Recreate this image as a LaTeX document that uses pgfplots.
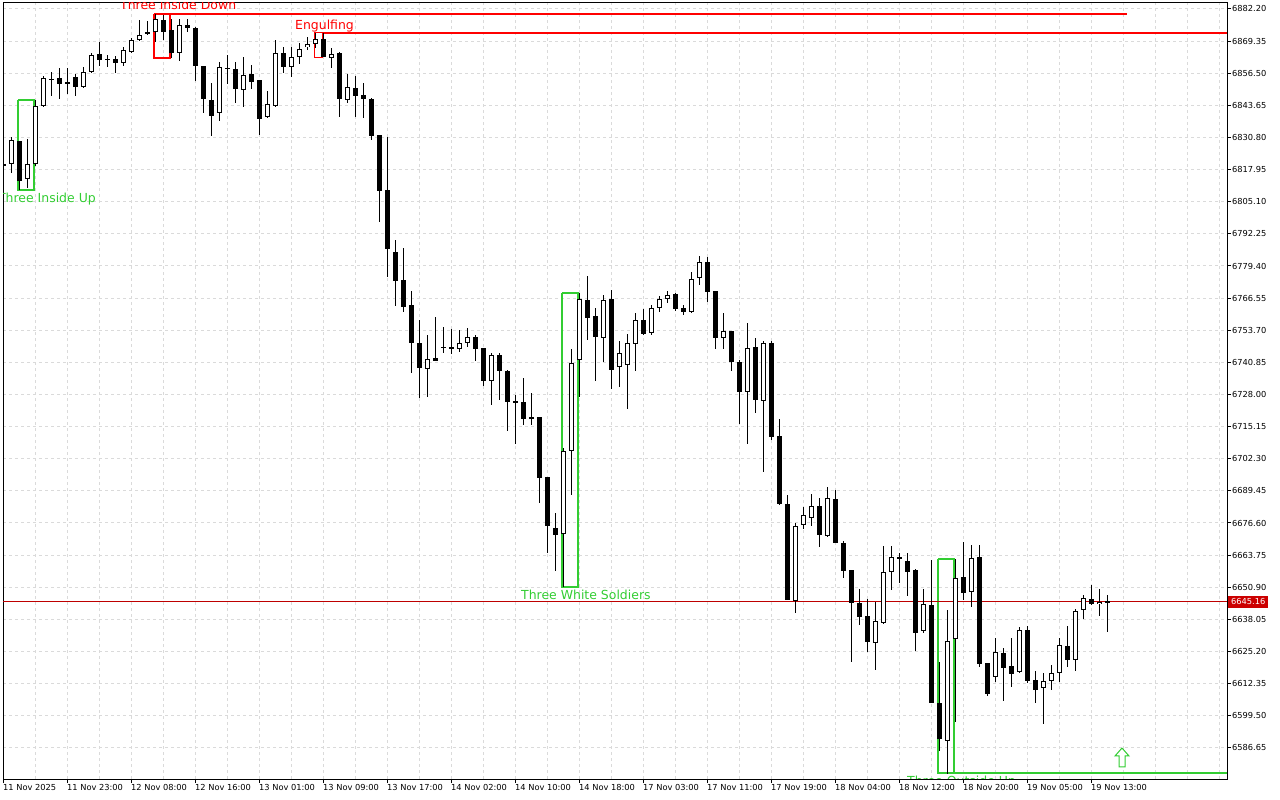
\documentclass[border=0pt]{standalone}
\usepackage{pgfplots}
\pgfplotsset{compat=1.18}
\usepackage{pgfplotstable}
\usepackage{fontspec}
\setmainfont{DejaVu Sans}
\definecolor{mtgreen}{RGB}{50,205,50}
\definecolor{mtred}{RGB}{255,0,0}
\definecolor{pline}{RGB}{190,0,0}
\definecolor{plabel}{RGB}{204,0,0}
\definecolor{gridc}{RGB}{218,218,218}

\pgfplotstableread{
i o h l c
0 6819.5 6822.0 6818.0 6820.2
1 6820.3 6831.1 6816.7 6829.7
2 6829.3 6829.6 6809.8 6813.5
3 6814.1 6830.1 6810.5 6820.1
4 6820.3 6845.7 6819.5 6843.5
5 6843.5 6855.5 6843.0 6854.9
6 6854.4 6857.1 6847.5 6854.0
7 6854.5 6858.7 6846.1 6852.1
8 6853.1 6858.7 6848.2 6852.5
9 6854.9 6856.5 6847.4 6850.9
10 6850.9 6859.1 6850.5 6856.9
11 6856.9 6864.7 6856.7 6863.7
12 6864.1 6868.9 6859.5 6861.8
13 6862.0 6863.8 6859.1 6862.2
14 6862.1 6863.4 6856.7 6860.5
15 6860.5 6867.1 6859.6 6865.7
16 6865.1 6870.7 6864.5 6869.7
17 6869.7 6877.8 6869.5 6871.7
18 6872.1 6877.3 6871.9 6872.9
19 6872.9 6880.2 6869.0 6878.1
20 6877.7 6880.0 6869.8 6873.1
21 6873.8 6878.1 6862.5 6864.7
22 6864.7 6878.1 6861.5 6875.7
23 6875.8 6878.1 6873.1 6874.7
24 6874.9 6875.2 6853.5 6859.5
25 6859.3 6859.5 6840.5 6846.1
26 6845.8 6852.5 6831.5 6839.5
27 6840.5 6861.1 6837.5 6858.9
28 6858.7 6863.8 6852.5 6858.5
29 6858.5 6861.1 6844.7 6850.2
30 6849.7 6863.1 6843.1 6855.7
31 6856.2 6859.8 6850.1 6853.1
32 6853.8 6854.0 6831.8 6838.5
33 6838.9 6849.4 6838.5 6844.1
34 6843.4 6869.8 6843.1 6864.5
35 6864.5 6866.9 6856.7 6859.1
36 6859.1 6866.9 6855.1 6863.1
37 6863.1 6868.5 6860.1 6866.3
38 6866.9 6871.1 6866.0 6868.1
39 6868.1 6872.7 6866.5 6870.1
40 6870.1 6872.7 6862.9 6863.1
41 6862.9 6866.5 6858.7 6864.2
42 6864.7 6865.1 6839.1 6846.1
43 6845.7 6856.2 6844.7 6850.9
44 6850.5 6855.4 6839.1 6847.5
45 6847.8 6852.7 6838.5 6846.1
46 6846.2 6846.6 6830.1 6831.4
47 6831.8 6832.0 6797.1 6809.5
48 6809.8 6831.1 6775.1 6786.3
49 6784.9 6789.8 6763.4 6773.5
50 6773.8 6786.5 6761.1 6763.1
51 6763.8 6769.4 6736.7 6748.5
52 6748.7 6757.8 6726.9 6738.5
53 6738.1 6751.8 6726.9 6742.1
54 6742.5 6759.2 6741.4 6741.5
55 6747.0 6755.1 6744.7 6746.9
56 6747.1 6754.2 6744.2 6746.3
57 6746.3 6753.8 6745.0 6748.7
58 6748.7 6754.5 6747.1 6750.9
59 6750.9 6751.8 6741.5 6746.3
60 6746.6 6746.8 6731.4 6733.5
61 6733.5 6744.7 6723.8 6743.7
62 6743.8 6744.7 6725.8 6737.5
63 6737.4 6737.8 6713.4 6725.1
64 6725.4 6727.8 6708.2 6724.5
65 6725.0 6734.7 6715.8 6718.5
66 6718.5 6728.5 6715.8 6718.9
67 6719.1 6719.2 6684.5 6694.7
68 6694.9 6695.0 6664.7 6675.3
69 6674.7 6680.5 6657.5 6671.8
70 6672.1 6706.5 6651.1 6705.3
71 6705.3 6746.5 6687.8 6740.7
72 6741.7 6768.7 6727.1 6766.1
73 6765.7 6775.5 6749.8 6758.7
74 6759.4 6762.5 6733.5 6751.1
75 6750.7 6767.8 6741.1 6765.7
76 6766.2 6769.8 6730.1 6738.1
77 6738.9 6749.4 6730.9 6744.5
78 6739.7 6752.2 6722.3 6748.5
79 6748.1 6760.6 6737.5 6757.7
80 6758.1 6762.2 6751.8 6752.3
81 6752.5 6763.8 6752.0 6762.5
82 6762.5 6767.4 6761.0 6766.1
83 6766.1 6769.5 6764.5 6767.7
84 6768.1 6768.7 6761.5 6762.3
85 6762.5 6763.8 6759.8 6761.1
86 6761.1 6777.1 6760.5 6774.1
87 6774.5 6783.5 6771.8 6780.9
88 6780.9 6782.9 6765.1 6769.1
89 6769.4 6769.5 6746.1 6750.7
90 6750.5 6760.7 6746.1 6753.4
91 6753.4 6753.6 6737.5 6740.9
92 6740.9 6741.8 6716.2 6729.1
93 6729.1 6756.7 6708.2 6746.5
94 6746.9 6750.5 6720.5 6725.8
95 6725.7 6749.4 6697.1 6748.7
96 6748.7 6749.4 6710.0 6711.1
97 6711.7 6718.1 6683.8 6684.2
98 6684.5 6687.7 6645.8 6645.8
99 6645.5 6676.5 6640.5 6675.3
100 6675.7 6682.9 6674.1 6679.7
101 6678.9 6688.5 6675.4 6683.5
102 6683.5 6686.7 6667.1 6671.6
103 6671.6 6690.9 6671.1 6686.5
104 6686.2 6689.8 6668.5 6668.7
105 6668.9 6669.4 6654.7 6657.5
106 6657.8 6658.0 6621.1 6644.5
107 6644.5 6650.2 6635.7 6638.9
108 6639.4 6646.1 6625.1 6629.1
109 6628.7 6645.1 6617.8 6637.3
110 6636.5 6667.4 6636.4 6656.9
111 6656.9 6667.4 6649.8 6662.9
112 6663.0 6664.5 6652.7 6662.4
113 6661.4 6664.5 6647.4 6657.1
114 6657.8 6658.0 6625.4 6632.7
115 6633.5 6650.1 6632.5 6644.1
116 6643.8 6661.7 6604.6 6604.6
117 6604.5 6621.1 6585.5 6590.1
118 6589.6 6641.8 6576.5 6629.5
119 6630.1 6662.2 6597.1 6654.7
120 6654.9 6669.1 6645.9 6648.5
121 6648.9 6667.8 6642.9 6662.5
122 6662.9 6667.8 6619.1 6620.2
123 6620.6 6620.7 6607.5 6608.2
124 6615.2 6630.5 6613.1 6624.9
125 6624.5 6626.5 6605.5 6618.5
126 6619.4 6630.5 6610.9 6616.2
127 6617.1 6634.9 6616.7 6633.8
128 6633.8 6635.5 6612.7 6613.4
129 6613.8 6617.4 6604.9 6609.8
130 6610.5 6616.9 6596.2 6613.4
131 6613.5 6619.8 6610.1 6616.5
132 6616.8 6630.7 6613.1 6627.7
133 6627.4 6635.4 6619.1 6622.1
134 6622.1 6642.1 6617.5 6641.4
135 6641.7 6647.8 6638.1 6646.5
136 6646.5 6651.8 6643.8 6644.2
137 6644.2 6650.1 6639.4 6645.1
138 6645.2 6647.8 6633.1 6645.16
}\candles

\begin{document}
\begin{tikzpicture}
\begin{axis}[
  scale only axis, width=1224bp, height=776bp,
  xmin=0, xmax=153, ymin=6574.2, ymax=6884.6,
  axis line style={line width=1bp, black},
  xtick pos=left, ytick pos=right, yticklabel pos=right,
  tick align=outside, major tick length=4bp, minor tick length=0pt,
  tick style={black, line width=1bp},
  scaled y ticks=false, scaled x ticks=false,
  xtick={0,8,...,136},
  xticklabels={11 Nov 2025, 11 Nov 23:00, 12 Nov 08:00, 12 Nov 16:00, 13 Nov 01:00, 13 Nov 09:00, 13 Nov 17:00, 14 Nov 02:00, 14 Nov 10:00, 14 Nov 18:00, 17 Nov 03:00, 17 Nov 11:00, 17 Nov 19:00, 18 Nov 04:00, 18 Nov 12:00, 18 Nov 20:00, 19 Nov 05:00, 19 Nov 13:00},
  minor xtick={4,8,...,152},
  ytick={6586.65,6599.50,6612.35,6625.20,6638.05,6650.90,6663.75,6676.60,6689.45,6702.30,6715.15,6728.00,6740.85,6753.70,6766.55,6779.40,6792.25,6805.10,6817.95,6830.80,6843.65,6856.50,6869.35,6882.20},
  yticklabels={6586.65,6599.50,6612.35,6625.20,6638.05,6650.90,6663.75,6676.60,6689.45,6702.30,6715.15,6728.00,6740.85,6753.70,6766.55,6779.40,6792.25,6805.10,6817.95,6830.80,6843.65,6856.50,6869.35,6882.20},
  xmajorgrids=false, xminorgrids=true, ymajorgrids=true,
  major grid style={gridc, dash pattern=on 3bp off 3bp, line width=1bp},
  minor grid style={gridc, dash pattern=on 3bp off 3bp, line width=1bp},
  ticklabel style={font=\fontsize{8.3}{10}\selectfont, text=black},
  xticklabel style={anchor=north west, inner sep=0pt, xshift=0bp, yshift=-1.5bp},
  yticklabel style={anchor=west, inner sep=0pt, xshift=1bp},
  clip mode=global,
]
% pattern boxes and lines
\addplot[mtgreen, line width=1.6bp, forget plot] coordinates {(1.9,6845.7) (3.9,6845.7) (3.9,6809.8) (1.9,6809.8) (1.9,6845.7)};
\addplot[mtred, line width=1.6bp, forget plot] coordinates {(18.9,6880.2) (20.9,6880.2) (20.9,6862.7) (18.9,6862.7) (18.9,6880.2)};
\addplot[mtred, line width=1.6bp, forget plot] coordinates {(18.9,6880.2) (140.5,6880.2)};
\addplot[mtred, line width=1.2bp, forget plot] coordinates {(38.9,6872.7) (39.9,6872.7) (39.9,6862.9) (38.9,6862.9) (38.9,6872.7)};
\addplot[mtred, line width=1.6bp, forget plot] coordinates {(39.9,6872.7) (153,6872.7)};
\addplot[mtgreen, line width=1.6bp, forget plot] coordinates {(69.9,6768.7) (71.9,6768.7) (71.9,6651.1) (69.9,6651.1) (69.9,6768.7)};
\addplot[mtgreen, line width=1.6bp, forget plot] coordinates {(116.9,6662.2) (118.9,6662.2) (118.9,6576.7) (116.9,6576.7) (116.9,6662.2)};
\addplot[mtgreen, line width=1.6bp, forget plot] coordinates {(116.9,6576.7) (153,6576.7)};
% current price line
\addplot[pline, line width=1bp, forget plot] coordinates {(0,6645.16) (153,6645.16)};
% wicks
\addplot[draw=none, forget plot, error bars/.cd, y dir=both, y explicit, error mark=none,
  error bar style={draw=black, line width=1bp, solid}]
  table[x=i, y expr={(\thisrow{h}+\thisrow{l})/2}, y error expr={(\thisrow{h}-\thisrow{l})/2}] {\candles};
% bodies (outer)
\addplot[draw=none, forget plot, error bars/.cd, y dir=both, y explicit, error mark=none,
  error bar style={draw=black, line width=5bp, line cap=butt, solid}]
  table[x=i, y expr={(\thisrow{o}+\thisrow{c})/2}, y error expr={max(abs(\thisrow{c}-\thisrow{o})/2,0.2)}] {\candles};
% bullish bodies (white inner)
\addplot[draw=none, forget plot, restrict expr to domain={\thisrow{c}-\thisrow{o}}{0.85:1000},
  error bars/.cd, y dir=both, y explicit, error mark=none,
  error bar style={draw=white, line width=3bp, line cap=butt, solid}]
  table[x=i, y expr={(\thisrow{o}+\thisrow{c})/2}, y error expr={(\thisrow{c}-\thisrow{o})/2-0.4}] {\candles};
% up arrow
\addplot[mtgreen, fill=white, line width=1bp, forget plot] coordinates {(139.875,6586.6) (140.75,6583.4) (140.25,6583.4) (140.25,6579.0) (139.5,6579.0) (139.5,6583.4) (139.0,6583.4) (139.875,6586.6)};
% labels
\node[anchor=base west, inner sep=0pt, text=mtred, font=\fontsize{12.5}{15}\selectfont] at (axis cs:14.625,6881.8) {Three Inside Down};
\node[anchor=base west, inner sep=0pt, text=mtred, font=\fontsize{12.5}{15}\selectfont] at (axis cs:36.5,6873.8) {Engulfing};
\node[anchor=base west, inner sep=0pt, text=mtgreen, font=\fontsize{12.5}{15}\selectfont] at (axis cs:64.75,6646.1) {Three White Soldiers};
\begin{scope}
\clip (axis cs:0,6574.2) rectangle (axis cs:153,6884.6);
\node[anchor=base east, inner sep=0pt, text=mtgreen, font=\fontsize{12.5}{15}\selectfont] at (axis cs:11.625,6804.9) {Three Inside Up};
\node[anchor=base west, inner sep=0pt, text=mtgreen, font=\fontsize{12.5}{15}\selectfont] at (axis cs:113.0,6571.8) {Three Outside Up};
\end{scope}
\coordinate (cp) at (axis cs:153,6645.16);
\end{axis}
\node[anchor=west, fill=plabel, text=white, inner sep=0pt, minimum width=40bp, minimum height=12bp, font=\fontsize{8.3}{10}\selectfont] at ([xshift=1bp]cp) {6645.16};
\pgfresetboundingbox
\path[use as bounding box] (-3bp,-21bp) rectangle (1277bp,779bp);
\end{tikzpicture}
\end{document}
